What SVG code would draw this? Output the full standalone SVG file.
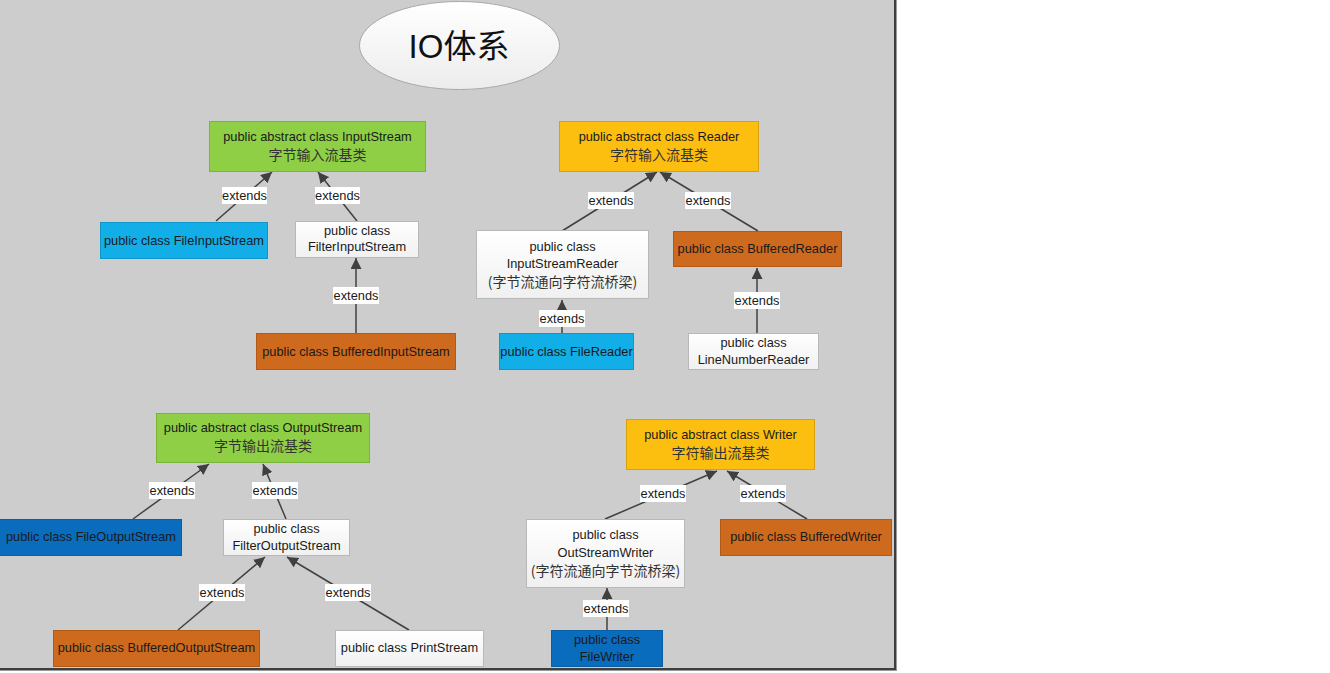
<svg xmlns="http://www.w3.org/2000/svg" width="1330" height="673" viewBox="0 0 1330 673">
<defs>
<marker id="arr" viewBox="0 0 10 10" refX="10" refY="5" markerWidth="11" markerHeight="11" markerUnits="userSpaceOnUse" orient="auto">
<path d="M0,0 L10,5 L0,10 z" fill="#404040"/>
</marker>
<linearGradient id="wg" x1="0" y1="0" x2="0" y2="1"><stop offset="0" stop-color="#ffffff"/><stop offset="1" stop-color="#f0f0f0"/></linearGradient>
<linearGradient id="eg" x1="0" y1="0" x2="0" y2="1"><stop offset="0" stop-color="#ffffff"/><stop offset="1" stop-color="#ececec"/></linearGradient>
</defs>
<style>
.t{font-family:"Liberation Sans",Arial,"Noto Sans CJK SC",sans-serif;font-size:12.8px;fill:#1a1a1a;text-anchor:middle}
.c{font-family:"Noto Sans CJK SC",sans-serif;font-size:14px;fill:#333;text-anchor:middle}
.green{fill:#8fcf45;stroke:#7bb43a;stroke-width:1}
.gold{fill:#fdbf0f;stroke:#d9a20c;stroke-width:1}
.lblue{fill:#12aee8;stroke:#0f97c9;stroke-width:1}
.dblue{fill:#0a6cbd;stroke:#0a5ea3;stroke-width:1}
.orange{fill:#cd6a1e;stroke:#b25a17;stroke-width:1}
.white{fill:url(#wg);stroke:#b8b8b8;stroke-width:1}
.e{stroke:#404040;stroke-width:1.5;fill:none;marker-end:url(#arr)}
.lb{fill:#ffffff}
</style>
<rect x="0" y="0" width="1330" height="673" fill="#ffffff"/>
<rect x="0" y="0" width="897" height="671" fill="#9a9a9a"/>
<rect x="0" y="0" width="896" height="670" fill="#3e3e3e"/>
<rect x="0" y="0" width="894" height="668" fill="#cdcdcd"/>

<g id="title">
<ellipse cx="459.5" cy="45.5" rx="100" ry="44" fill="url(#eg)" stroke="#a8a8a8" stroke-width="1"/>
<text x="459" y="58" style="font-family:'Liberation Sans','Noto Sans CJK SC',sans-serif;font-size:33px;fill:#111;text-anchor:middle">IO体系</text>
</g>

<g id="connectors">
<line class="e" x1="216" y1="221" x2="272" y2="172"/>
<line class="e" x1="357" y1="221" x2="318" y2="172"/>
<line class="e" x1="356" y1="333" x2="356" y2="258"/>
<line class="e" x1="562" y1="231" x2="657" y2="172"/>
<line class="e" x1="758" y1="231" x2="660" y2="172"/>
<line class="e" x1="562" y1="333" x2="562" y2="300"/>
<line class="e" x1="757" y1="333" x2="757" y2="268"/>
<line class="e" x1="133" y1="519" x2="209" y2="464"/>
<line class="e" x1="286" y1="519" x2="263" y2="464"/>
<line class="e" x1="178" y1="630" x2="265" y2="557"/>
<line class="e" x1="409" y1="630" x2="287" y2="557"/>
<line class="e" x1="605" y1="519" x2="717" y2="471"/>
<line class="e" x1="807" y1="519" x2="727" y2="471"/>
<line class="e" x1="607" y1="630" x2="607" y2="588"/>
<g>
<rect class="lb" x="222" y="187" width="45" height="17"/><text class="t" x="244.5" y="200">extends</text>
<rect class="lb" x="315" y="187" width="45" height="17"/><text class="t" x="337.5" y="200">extends</text>
<rect class="lb" x="333" y="287" width="46" height="17"/><text class="t" x="356" y="300">extends</text>
<rect class="lb" x="588" y="192" width="46" height="17"/><text class="t" x="611" y="205">extends</text>
<rect class="lb" x="685" y="192" width="46" height="17"/><text class="t" x="708" y="205">extends</text>
<rect class="lb" x="539" y="310" width="46" height="17"/><text class="t" x="562" y="323">extends</text>
<rect class="lb" x="734" y="292" width="46" height="17"/><text class="t" x="757" y="305">extends</text>
<rect class="lb" x="149" y="482" width="46" height="17"/><text class="t" x="172" y="495">extends</text>
<rect class="lb" x="252" y="482" width="46" height="17"/><text class="t" x="275" y="495">extends</text>
<rect class="lb" x="199" y="584" width="46" height="17"/><text class="t" x="222" y="597">extends</text>
<rect class="lb" x="325" y="584" width="46" height="17"/><text class="t" x="348" y="597">extends</text>
<rect class="lb" x="640" y="485" width="46" height="17"/><text class="t" x="663" y="498">extends</text>
<rect class="lb" x="740" y="485" width="46" height="17"/><text class="t" x="763" y="498">extends</text>
<rect class="lb" x="583" y="600" width="46" height="17"/><text class="t" x="606" y="613">extends</text>
</g>
</g>

<g id="InputStream">
<rect class="green" x="209.5" y="121.5" width="216" height="50"/>
<text class="t" x="317.5" y="141">public abstract class InputStream</text>
<text class="c" x="317.5" y="160">字节输入流基类</text>
</g>
<g id="FileInputStream">
<rect class="lblue" x="100.5" y="222.5" width="167" height="36"/>
<text class="t" x="184" y="245">public class FileInputStream</text>
</g>
<g id="FilterInputStream">
<rect class="white" x="295.5" y="221.5" width="123" height="36"/>
<text class="t" x="357" y="235">public class</text>
<text class="t" x="357" y="251">FilterInputStream</text>
</g>
<g id="BufferedInputStream">
<rect class="orange" x="256.5" y="333.5" width="199" height="36"/>
<text class="t" x="356" y="356">public class BufferedInputStream</text>
</g>

<g id="Reader">
<rect class="gold" x="559.5" y="121.5" width="199" height="50"/>
<text class="t" x="659" y="141">public abstract class Reader</text>
<text class="c" x="659" y="160">字符输入流基类</text>
</g>
<g id="InputStreamReader">
<rect class="white" x="476.5" y="230.5" width="172" height="68"/>
<text class="t" x="562.5" y="251">public class</text>
<text class="t" x="562.5" y="268">InputStreamReader</text>
<text class="c" x="562.5" y="287">(字节流通向字符流桥梁)</text>
</g>
<g id="BufferedReader">
<rect class="orange" x="673.5" y="231.5" width="168" height="35"/>
<text class="t" x="757.5" y="253">public class BufferedReader</text>
</g>
<g id="FileReader">
<rect class="lblue" x="499.5" y="333.5" width="134" height="36"/>
<text class="t" x="566.5" y="356">public class FileReader</text>
</g>
<g id="LineNumberReader">
<rect class="white" x="688.5" y="333.5" width="130" height="36"/>
<text class="t" x="753.5" y="347">public class</text>
<text class="t" x="753.5" y="364">LineNumberReader</text>
</g>

<g id="OutputStream">
<rect class="green" x="156.5" y="413.5" width="213" height="49"/>
<text class="t" x="263" y="432">public abstract class OutputStream</text>
<text class="c" x="263" y="451">字节输出流基类</text>
</g>
<g id="FileOutputStream">
<rect class="dblue" x="-0.5" y="519.5" width="182" height="36"/>
<text class="t" x="91" y="541">public class FileOutputStream</text>
</g>
<g id="FilterOutputStream">
<rect class="white" x="223.5" y="519.5" width="126" height="36"/>
<text class="t" x="286.5" y="533">public class</text>
<text class="t" x="286.5" y="550">FilterOutputStream</text>
</g>
<g id="BufferedOutputStream">
<rect class="orange" x="53.5" y="630.5" width="206" height="36"/>
<text class="t" x="156.5" y="652">public class BufferedOutputStream</text>
</g>
<g id="PrintStream">
<rect class="white" x="335.5" y="630.5" width="148" height="36"/>
<text class="t" x="409.5" y="652">public class PrintStream</text>
</g>

<g id="Writer">
<rect class="gold" x="626.5" y="419.5" width="188" height="50"/>
<text class="t" x="720.5" y="439">public abstract class Writer</text>
<text class="c" x="720.5" y="458">字符输出流基类</text>
</g>
<g id="OutStreamWriter">
<rect class="white" x="526.5" y="519.5" width="158" height="68"/>
<text class="t" x="605.5" y="539">public class</text>
<text class="t" x="605.5" y="557">OutStreamWriter</text>
<text class="c" x="605.5" y="576">(字符流通向字节流桥梁)</text>
</g>
<g id="BufferedWriter">
<rect class="orange" x="720.5" y="519.5" width="171" height="36"/>
<text class="t" x="806" y="541">public class BufferedWriter</text>
</g>
<g id="FileWriter">
<rect class="dblue" x="551.5" y="630.5" width="111" height="36"/>
<text class="t" x="607" y="644">public class</text>
<text class="t" x="607" y="661">FileWriter</text>
</g>
</svg>
